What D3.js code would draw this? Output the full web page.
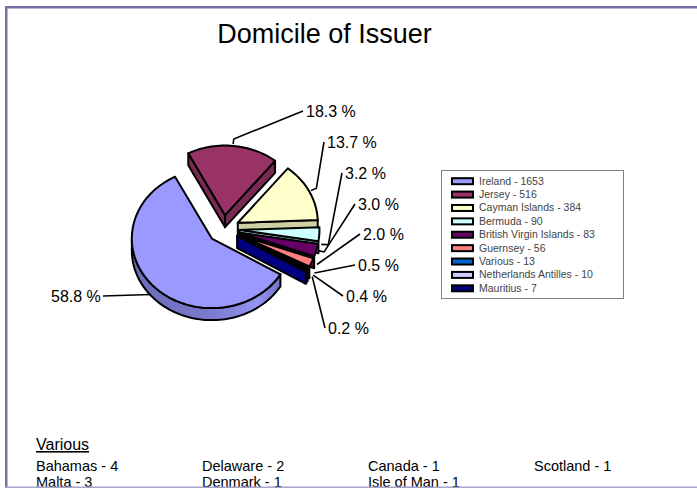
<!DOCTYPE html>
<html lang="en">
<head>
<meta charset="UTF-8">
<title>Domicile of Issuer</title>
<style>
    body, html { margin: 0; padding: 0; width: 100%; height: 100%; overflow: hidden; background: #fff; }
    svg { display: block; font-family: 'Liberation Sans', Arial, sans-serif; }
</style>
</head>
<body>
<svg id="chart" width="697" height="488"></svg>
<script src="https://d3js.org/d3.v7.min.js"></script>
<script>
    // data
    const categories = ["Ireland", "Jersey", "Cayman Islands", "Bermuda", "British Virgin Islands",
        "Guernsey", "Various", "Netherlands Antilles", "Mauritius"];
    const values = [1653, 516, 384, 90, 83, 56, 13, 10, 7];
    const percentLabels = ["58.8 %", "18.3 %", "13.7 %", "3.2 %", "3.0 %", "2.0 %", "0.5 %", "0.4 %", "0.2 %"];
    const variousItems = ["Bahamas - 4", "Malta - 3", "Delaware - 2", "Denmark - 1",
        "Canada - 1", "Isle of Man - 1", "Scotland - 1"];

    // styling and label layout
    const topColors = ["#9999ff", "#993366", "#ffffcc", "#ccffff", "#660066", "#ff8080", "#0066cc", "#ccccff", "#000080"];
    const sideColors = ["url(#irelandSide)", "#7a2952", "#cfcfa5", "#a5cfcf", "#520052", "#cf6868", "#0052a5", "#a5a5cf", "#000066"];
    const labelX = [51, 306, 327, 345, 358, 363, 358, 346, 328];
    const labelY = [302, 117, 148, 179, 210, 240, 271, 302, 334];
    const leaderGap = [2, 0, 0, 0, 0, 4, 5, 5, 5];
    const leaderDrop = [6, 0, 0, 10, 0, 0, 2, 2, 2];
    const leaderElbow = [0, 6, 6, 7, 6, 0, 0, 0, 0];

    const svg = d3.select("#chart");

    const cx = 223.5, cy = 229, rx = 80, squash = 0.87, explode = 16, depth = 12;
    const rad = d => d * Math.PI / 180;

    const defs = svg.append("defs");
    const grad = defs.append("linearGradient").attr("id", "irelandSide");
    grad.append("stop").attr("offset", "0%").attr("stop-color", "#6a6ab8");
    grad.append("stop").attr("offset", "55%").attr("stop-color", "#7c7cd0");
    grad.append("stop").attr("offset", "85%").attr("stop-color", "#9494f4");
    grad.append("stop").attr("offset", "100%").attr("stop-color", "#7070c0");

    // page frame
    svg.append("rect").attr("x", 5).attr("y", 6).attr("width", 692).attr("height", 2.5).attr("fill", "#7b6fa6");
    svg.append("rect").attr("x", 5).attr("y", 6).attr("width", 2.5).attr("height", 482).attr("fill", "#7b6fa6");

    svg.append("text").attr("x", 324.5).attr("y", 43).attr("text-anchor", "middle")
        .attr("font-size", 27).attr("fill", "#000").text("Domicile of Issuer");

    const pie = d3.pie().sort(null).startAngle(rad(121)).endAngle(rad(481));
    const arcs = pie(values).map((d, i) => {
        const mid = (d.startAngle + d.endAngle) / 2;
        return {
            i, mid,
            a0: d.startAngle,
            a1: d.endAngle,
            ox: cx + explode * Math.sin(mid),
            oy: cy - explode * Math.cos(mid) * squash
        };
    });

    const pt = (s, a, r, drop = 0) => [
        s.ox + r * Math.sin(a),
        s.oy - r * Math.cos(a) * squash + drop
    ];
    const poly = d3.line().curve(d3.curveLinearClosed);

    function arcPoints(s, a0, a1, drop) {
        const n = Math.max(2, Math.ceil((a1 - a0) / rad(2)));
        return d3.range(n + 1).map(k => pt(s, a0 + (a1 - a0) * k / n, rx, drop));
    }

    const pieG = svg.append("g")
        .attr("stroke", "#000").attr("stroke-width", 2).attr("stroke-linejoin", "round");

    // back to front
    arcs.slice().sort((a, b) => d3.descending(Math.cos(a.mid), Math.cos(b.mid))).forEach(s => {
        const g = pieG.append("g");
        const side = sideColors[s.i];
        const flat = side.startsWith("url") ? "#7c7cd0" : side;
        const apex = pt(s, 0, 0);

        // cut faces
        [[s.a0, -Math.sin(s.a0)], [s.a1, Math.sin(s.a1)]].forEach(([a, facing]) => {
            if (facing > 0) {
                g.append("path").attr("fill", s.i === 8 ? "#000080" : flat).attr("d", poly([
                    apex, pt(s, a, rx), pt(s, a, rx, depth), pt(s, 0, 0, depth)
                ]));
            }
        });

        // outer wall, only the part facing the viewer
        const w0 = Math.max(s.a0, rad(90)), w1 = Math.min(s.a1, rad(270));
        if (w1 > w0) {
            g.append("path").attr("fill", side)
                .attr("d", poly(arcPoints(s, w0, w1, 0).concat(arcPoints(s, w0, w1, depth).reverse())));
        }

        // top face
        g.append("path").attr("fill", topColors[s.i])
            .attr("d", poly([apex].concat(arcPoints(s, s.a0, s.a1, 0))));
    });

    // leaders and percent labels
    const leaderG = svg.append("g").attr("fill", "none").attr("stroke", "#000").attr("stroke-width", 1.6);
    arcs.forEach(s => {
        const i = s.i;
        const r0 = rx + 2 + leaderGap[i];
        const pts = [pt(s, s.mid, r0, leaderDrop[i])];
        if (leaderElbow[i]) pts.push(pt(s, s.mid, r0 + leaderElbow[i], leaderDrop[i]));
        pts.push(i === 0 ? [labelX[i] + 52, labelY[i] - 6] : [labelX[i] - 3, labelY[i] - 6]);
        leaderG.append("path").attr("d", d3.line()(pts));
        svg.append("text").attr("x", labelX[i]).attr("y", labelY[i])
            .attr("font-size", 16).attr("fill", "#000").text(percentLabels[i]);
    });

    // legend
    const legendRow = d3.scaleBand().domain(categories).range([174.5, 295]);
    const legend = svg.append("g");
    legend.append("rect").attr("x", 441.5).attr("y", 170.5).attr("width", 182).attr("height", 128)
        .attr("fill", "#fff").attr("stroke", "#808080");
    categories.forEach((c, i) => {
        const y = legendRow(c) + legendRow.bandwidth() / 2;
        legend.append("rect").attr("x", 452).attr("y", y - 3).attr("width", 21).attr("height", 6)
            .attr("fill", topColors[i]).attr("stroke", "#000").attr("stroke-width", 2);
        legend.append("text").attr("x", 479).attr("y", y + 3.5)
            .attr("font-size", 10.5).attr("fill", "#444").text(c + " - " + values[i]);
    });

    // various breakdown
    svg.append("text").attr("x", 36).attr("y", 450).attr("font-size", 16)
        .attr("text-decoration", "underline").attr("fill", "#000").text("Various");
    const columnX = d3.scalePoint().domain(d3.range(4)).range([36, 534]);
    variousItems.forEach((t, i) => {
        const col = i < 6 ? Math.floor(i / 2) : 3;
        const row = i < 6 ? i % 2 : 0;
        svg.append("text").attr("x", columnX(col)).attr("y", 471 + row * 16)
            .attr("font-size", 14.5).attr("fill", "#000").text(t);
    });

    // bottom edge of the frame sits over the last row
    svg.append("rect").attr("x", 5).attr("y", 486.5).attr("width", 692).attr("height", 1.5).attr("fill", "#a5a3cc");
</script>
</body>
</html>
